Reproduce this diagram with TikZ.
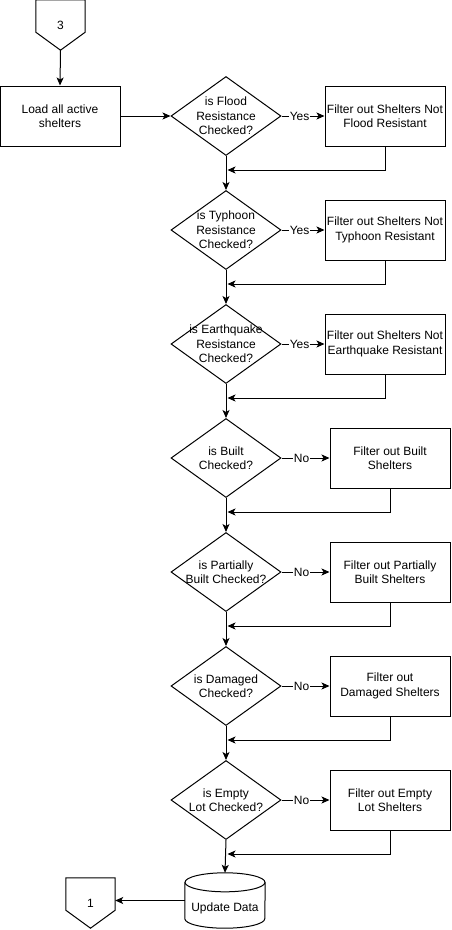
\documentclass[tikz,border=0pt]{standalone}
\usepackage{fontspec}
\setmainfont{Liberation Sans}
\usetikzlibrary{arrows.meta,shapes.geometric,calc}

\tikzset{
  base/.style={draw, line width=1pt, align=center, font=\fontsize{12pt}{14.5pt}\selectfont},
  procbox/.style={base, rectangle, inner sep=1pt, minimum width=120pt, minimum height=60pt},
  decision/.style={base, diamond, aspect=1.4, inner sep=-8pt, minimum width=110pt, minimum height=79pt},
  plainbox/.style={rectangle, inner sep=0pt, align=center, font=\fontsize{12pt}{14.5pt}\selectfont},
  offpage/.style={plainbox, minimum width=49pt, minimum height=50pt},
  database/.style={plainbox, minimum width=80pt, minimum height=55pt},
  outline/.style={line width=1pt},
  flow/.style={line width=1pt, -{Stealth[length=8pt,width=7pt,inset=2pt]}},
  answer/.style={fill=white, inner sep=0.5pt, font=\fontsize{12pt}{14.5pt}\selectfont},
}

\begin{document}
\begin{tikzpicture}[x=1pt,y=1pt]
\useasboundingbox (0,0) rectangle (451,-930);

% entry from page 3
\node[offpage] (c3) at (60.5,-25) {3};
\draw[outline] (c3.north west) -- (c3.north east) -- ([yshift=18pt]c3.south east)
  -- (c3.south) -- ([yshift=18pt]c3.south west) -- cycle;

\node[procbox] (load) at (60,-116) {Load all active\\shelters};

% one row per filter check
\foreach \i/\y/\dtext/\ans/\fx/\ftext in {
  1/116/{is Flood\\Resistance\\Checked?}/Yes/385/{Filter out Shelters Not\\Flood Resistant},
  2/230/{is Typhoon\\Resistance\\Checked?}/Yes/385/{Filter out Shelters Not\\Typhoon Resistant},
  3/344/{is Earthquake\\Resistance\\Checked?}/Yes/385/{Filter out Shelters Not\\Earthquake Resistant},
  4/458/{is Built\\Checked?}/No/390/{Filter out Built\\Shelters},
  5/572/{is Partially\\Built Checked?}/No/390/{Filter out Partially\\Built Shelters},
  6/686/{is Damaged\\Checked?}/No/390/{Filter out\\Damaged Shelters},
  7/800/{is Empty\\Lot Checked?}/No/390/{Filter out Empty\\Lot Shelters}} {
  \node[decision] (d\i) at (226,-\y) {\dtext};
  \node[procbox] (f\i) at (\fx,-\y) {\ftext};
  \coordinate (j\i) at (227.5,-\y-54);
  \draw[flow] (d\i.east) -- node[answer, pos=0.42] {\ans} (f\i.west);
  \draw[flow] (f\i.south) |- (j\i);
}

\foreach \i [evaluate=\i as \j using int(\i+1)] in {1,...,6}
  \draw[flow] (d\i.south) -- (d\j.north);

% data store
\node[database] (db) at (225,-900.5) {\raisebox{-8pt}[\height][\depth]{Update Data}};
\draw[outline] ([yshift=-9.5pt]db.north) ellipse [x radius=40pt, y radius=9.5pt];
\draw[outline] ([yshift=-9.5pt]db.north west) -- ([yshift=9.5pt]db.south west)
  arc[start angle=180, end angle=360, x radius=40pt, y radius=9.5pt] -- ([yshift=-9.5pt]db.north east);

% exit to page 1
\node[offpage] (c1) at (90.5,-903) {1};
\draw[outline] (c1.north west) -- (c1.north east) -- ([yshift=18pt]c1.south east)
  -- (c1.south) -- ([yshift=18pt]c1.south west) -- cycle;

\draw[flow] (c3.south) -- (load.north);
\draw[flow] (load.east) -- (d1.west);
\draw[flow] (d7.south) -- (db.north);
\draw[flow] (db.west) -- (db.west -| c1.east);
\end{tikzpicture}
\end{document}
